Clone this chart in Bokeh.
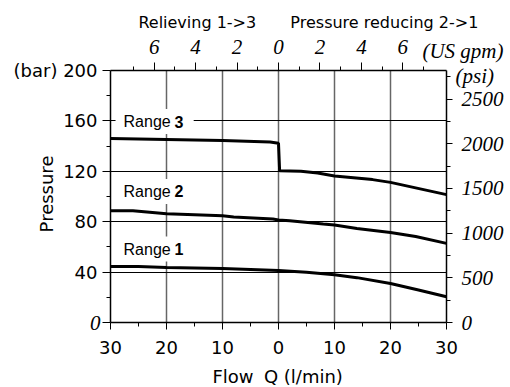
import math
from bokeh.plotting import figure
from bokeh.models import LinearAxis, Range1d, FixedTicker, Label
from bokeh.embed import file_html
from bokeh.resources import INLINE

# ---- data ----
flow_r3 = [-30, -20, -10, -1.5, 0, 0.2, 4, 7, 10, 16.8, 20, 30]
pres_r3 = [146, 145.2, 144.4, 143.2, 142.2, 120.5, 120, 118.7, 116.3, 113.4, 111.2, 101.5]

flow_r2 = [-30, -26, -20, -10, -8, -1, 0, 2, 8, 10, 14, 20, 24.5, 30]
pres_r2 = [88.6, 88.6, 86.3, 84.8, 83.8, 82.2, 81.4, 80.8, 78.2, 77.4, 74.6, 71.5, 68.3, 62.8]

flow_r1 = [-30, -25, -20, -10, 0, 5, 10, 14, 20, 25, 30]
pres_r1 = [44.5, 44.5, 43.7, 42.9, 41.3, 39.8, 37.9, 35.6, 31, 25.8, 20.4]

range_names = ["Range", "Range", "Range"]
range_digits = ["3", "2", "1"]

flow_ticks = [-30, -20, -10, 0, 10, 20, 30]
flow_tick_labels = ["30", "20", "10", "0", "10", "20", "30"]
flow_minor = [-25, -15, -5, 5, 15, 25]
flow_grid = [-20, -10, 0, 10, 20]

bar_ticks = [0, 40, 80, 120, 160, 200]
bar_tick_labels = ["", "40", "80", "120", "160", "(bar) 200"]
bar_minor = [20, 60, 100, 140, 180]
bar_grid = [40, 80, 120, 160]

gpm_ticks = [-6, -4, -2, 0, 2, 4, 6]
gpm_tick_labels = ["6", "4", "2", "0", "2", "4", "6"]
gpm_minor = [-7, -5, -3, -1, 1, 3, 5, 7]

psi_ticks = [0, 500, 1000, 1500, 2000, 2500]
psi_tick_labels = ["0", "500", "1000", "1500", "2000", "2500"]
psi_minor = [250, 750, 1250, 1750, 2250, 2750]

LPM_PER_GPM = 3.7
PSI_PER_BAR = 14.1
X_MIN, X_MAX = -30, 30
Y_MIN, Y_MAX = 0, 200

# ---- layout (pixels) ----
W, H = 510, 387
PLOT_L, PLOT_R, PLOT_T, PLOT_B = 110, 446, 70, 322
sx = (PLOT_R - PLOT_L) / (X_MAX - X_MIN)
sy = (PLOT_B - PLOT_T) / (Y_MAX - Y_MIN)
x_start = X_MIN - PLOT_L / sx
x_end = X_MAX + (W - PLOT_R) / sx
y_start = Y_MIN - (H - PLOT_B) / sy
y_end = Y_MAX + PLOT_T / sy

SANS = "DejaVu Sans"
SERIF = "Liberation Serif"
ARIAL = "Liberation Sans"
INK = "black"

p = figure(width=W, height=H,
           x_range=Range1d(x_start, x_end), y_range=Range1d(y_start, y_end),
           output_backend="svg", toolbar_location=None, min_border=0)
p.min_border_left = p.min_border_right = p.min_border_top = p.min_border_bottom = 0
p.outline_line_color = None
p.background_fill_color = "white"
p.border_fill_color = "white"

p.extra_x_ranges = {"gpm": Range1d(x_start / LPM_PER_GPM, x_end / LPM_PER_GPM)}
p.extra_y_ranges = {"psi": Range1d(y_start * PSI_PER_BAR, y_end * PSI_PER_BAR)}

def style_axis(ax, font, size, style, tick_out, minor_out, standoff):
    ax.axis_line_color = INK
    ax.axis_line_width = 1.5
    ax.major_tick_line_color = INK
    ax.minor_tick_line_color = INK
    ax.major_tick_line_width = 1
    ax.minor_tick_line_width = 1
    ax.major_tick_in = 0
    ax.minor_tick_in = 0
    ax.major_tick_out = tick_out
    ax.minor_tick_out = minor_out
    ax.major_label_text_font = font
    ax.major_label_text_font_size = size
    ax.major_label_text_font_style = style
    ax.major_label_text_color = INK
    ax.major_label_standoff = standoff

# bottom axis (l/min)
xb = p.below[0]
xb.fixed_location = Y_MIN
xb.bounds = (X_MIN, X_MAX)
xb.ticker = FixedTicker(ticks=flow_ticks, minor_ticks=flow_minor)
xb.major_label_overrides = dict(zip(flow_ticks, flow_tick_labels))
style_axis(xb, SANS, "18px", "normal", 7, 4, 11)

# left axis (bar)
yl = p.left[0]
yl.fixed_location = X_MIN
yl.bounds = (Y_MIN, Y_MAX)
yl.ticker = FixedTicker(ticks=bar_ticks, minor_ticks=bar_minor)
yl.major_label_overrides = dict(zip(bar_ticks, bar_tick_labels))
style_axis(yl, SANS, "18px", "normal", 8, 4, 5)

# top axis (US gpm)
xt = LinearAxis(x_range_name="gpm", fixed_location=Y_MAX,
                bounds=(X_MIN / LPM_PER_GPM, X_MAX / LPM_PER_GPM))
xt.ticker = FixedTicker(ticks=gpm_ticks, minor_ticks=gpm_minor)
xt.major_label_overrides = dict(zip(gpm_ticks, gpm_tick_labels))
style_axis(xt, SERIF, "21px", "italic", 8, 4, 9)
p.add_layout(xt, "above")

# right axis (psi)
yr = LinearAxis(y_range_name="psi", fixed_location=X_MAX,
                bounds=(Y_MIN * PSI_PER_BAR, Y_MAX * PSI_PER_BAR))
yr.ticker = FixedTicker(ticks=psi_ticks, minor_ticks=psi_minor)
yr.major_label_overrides = dict(zip(psi_ticks, psi_tick_labels))
style_axis(yr, SERIF, "21px", "italic", 6, 4, 9)
p.add_layout(yr, "right")

# grids
p.xgrid.ticker = FixedTicker(ticks=flow_grid)
p.xgrid.bounds = (X_MIN, X_MAX)
p.xgrid.cross_bounds = (Y_MIN, Y_MAX)
p.xgrid.grid_line_color = "#666666"
p.xgrid.grid_line_width = 1.5
p.ygrid.ticker = FixedTicker(ticks=bar_grid)
p.ygrid.bounds = (Y_MIN, Y_MAX)
p.ygrid.cross_bounds = (X_MIN, X_MAX)
p.ygrid.grid_line_color = INK
p.ygrid.grid_line_width = 1

# curves
for xs, ys in [(flow_r3, pres_r3), (flow_r2, pres_r2), (flow_r1, pres_r1)]:
    p.line(xs, ys, line_color=INK, line_width=3)

# range labels with white boxes (box anchored at its left edge)
box_x = -29.1
range_label_y = [159.5, 104.0, 58.3]
for name, dig, ly in zip(range_names, range_digits, range_label_y):
    p.add_layout(Label(x=box_x, y=ly, text=name, text_font=ARIAL, text_font_size="16px",
                       text_align="left", text_baseline="middle", text_color=INK,
                       background_fill_color="white",
                       padding=dict(left=8, right=23, top=4, bottom=4)))
    p.add_layout(Label(x=box_x, y=ly, x_offset=59, text=dig, text_font=ARIAL,
                       text_font_size="16px", text_font_style="bold",
                       text_align="left", text_baseline="middle", text_color=INK))

# italic zero on the bar axis
p.add_layout(Label(x=X_MIN, y=Y_MIN, x_offset=-10, text="0", text_font=SERIF,
                   text_font_size="21px", text_font_style="italic", text_color=INK,
                   text_align="right", text_baseline="middle"))

# unit labels
p.add_layout(Label(x=25.7, y=215.5, text="(US gpm)", text_font=SERIF,
                   text_font_size="21px", text_font_style="italic", text_color=INK,
                   text_align="left", text_baseline="alphabetic"))
p.add_layout(Label(x=31.6, y=196.0, text="(psi)", text_font=SERIF,
                   text_font_size="21px", text_font_style="italic", text_color=INK,
                   text_align="left", text_baseline="alphabetic"))

# section titles
p.add_layout(Label(x=-14.5, y=238.4, text="Relieving 1->3", text_font=SANS,
                   text_font_size="16px", text_color=INK,
                   text_align="center", text_baseline="alphabetic"))
p.add_layout(Label(x=18.9, y=238.4, text="Pressure reducing 2->1", text_font=SANS,
                   text_font_size="16px", text_color=INK,
                   text_align="center", text_baseline="alphabetic"))

# axis titles
p.add_layout(Label(x=-41.4, y=102, text="Pressure", angle=math.pi / 2, text_font=SANS,
                   text_font_size="18px", text_color=INK,
                   text_align="center", text_baseline="middle"))
p.add_layout(Label(x=-4.46, y=-42.9, text="Flow", text_font=SANS, text_font_size="18px",
                   text_color=INK, text_align="right", text_baseline="alphabetic"))
p.add_layout(Label(x=-2.6, y=-42.9, text="Q (l/min)", text_font=SANS, text_font_size="18px",
                   text_color=INK, text_align="left", text_baseline="alphabetic"))

open("out.html", "w").write(file_html(p, INLINE))
